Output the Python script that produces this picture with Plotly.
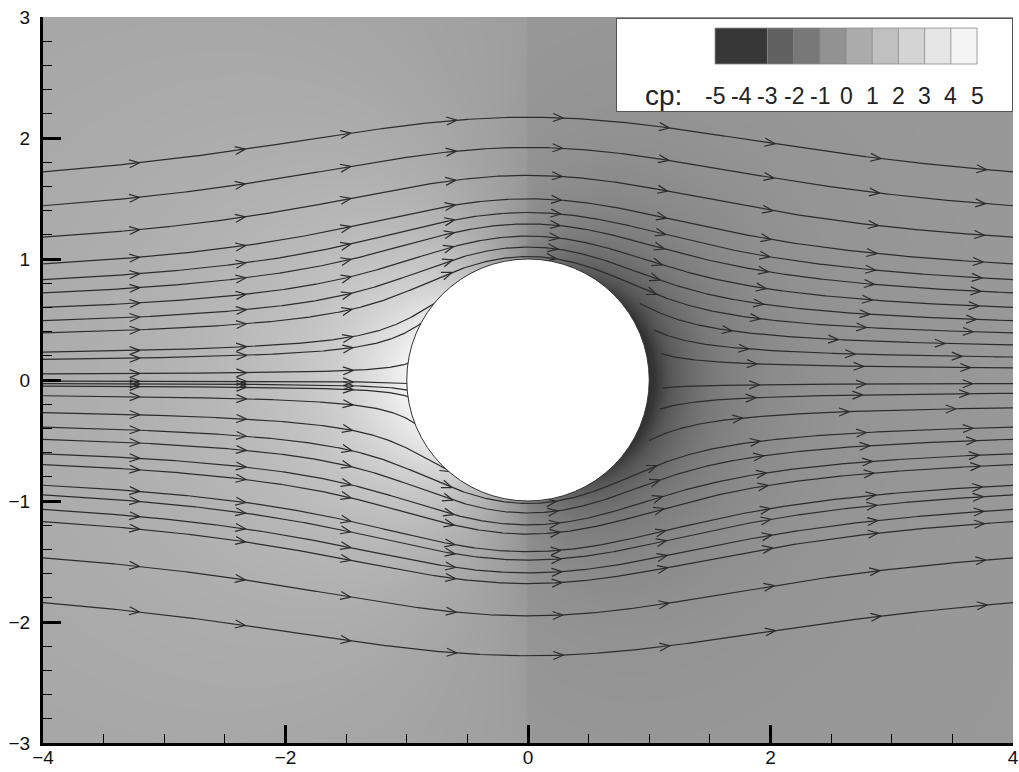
import math
import numpy as np
import plotly.graph_objects as go

# ---------------------------------------------------------------- data ----
# Heights of the streamline rake at the inflow edge (x = -4)
inflow_seed_y = [1.72, 1.44, 1.18, 0.96, 0.83, 0.72, 0.60, 0.49, 0.39, 0.23, 0.17,
                 0.05, -0.01, -0.03, -0.05, -0.13, -0.27, -0.39, -0.49, -0.61,
                 -0.70, -0.87, -0.95, -1.07, -1.17, -1.47, -1.84]
# Heights at the outflow edge (x = 4) of the lines leaving the rear face
wake_seed_y = [0.29, 0.19, 0.10, -0.03, -0.11, -0.23]

# Pressure-coefficient legend
cp_band_edges = [-5, -3, -2, -1, 0, 1, 2, 3, 4, 5]
cp_tick_values = [-5, -4, -3, -2, -1, 0, 1, 2, 3, 4, 5]
cp_tick_labels = ["-5", "-4", "-3", "-2", "-1", "0", "1", "2", "3", "4", "5"]
gray_cp = [-5, -4, -3, -2, -1, 0, 1, 2, 3, 4, 5]
gray_level = [42, 55, 85, 108, 132, 160, 182, 202, 222, 238, 249]

# ---------------------------------------------------------- flow model ----
K_NEAR = 0.3635      # porous doublet at the cylinder
K_FAR = 3.28         # broad displacement term
CORE = 3.0
CP_FRONT = 4.4
CP_BACK = 4.4
CP_SHOULDER = 0.8
ZONE_SHIFT = -0.22   # offset of the downstream (x >= 0) block
X_MIN, X_MAX, Y_MIN, Y_MAX = -4.0, 4.0, -3.0, 3.0


def velocity(x, y):
    s = x * x + y * y
    t = s + CORE * CORE
    f = 1.0 - K_NEAR / s - K_FAR / t
    fp = K_NEAR / (s * s) + K_FAR / (t * t)
    return f + 2.0 * y * y * fp, -2.0 * x * y * fp


def unit_dir(x, y, sign):
    u, v = velocity(x, y)
    m = math.hypot(u, v) or 1.0
    return sign * u / m, sign * v / m


def trace_line(x0, y0, sign, r_stop, h=0.01):
    xs, ys = [x0], [y0]
    x, y = x0, y0
    for _ in range(4000):
        k1 = unit_dir(x, y, sign)
        k2 = unit_dir(x + 0.5 * h * k1[0], y + 0.5 * h * k1[1], sign)
        k3 = unit_dir(x + 0.5 * h * k2[0], y + 0.5 * h * k2[1], sign)
        k4 = unit_dir(x + h * k3[0], y + h * k3[1], sign)
        x += h * (k1[0] + 2 * k2[0] + 2 * k3[0] + k4[0]) / 6.0
        y += h * (k1[1] + 2 * k2[1] + 2 * k3[1] + k4[1]) / 6.0
        xs.append(x)
        ys.append(y)
        if x > X_MAX or x < X_MIN or abs(y) > Y_MAX or math.hypot(x, y) < r_stop:
            break
    return np.array(xs), np.array(ys)


def chevrons(xs, ys, first=0.8, step=0.88, length=0.085, half=0.033):
    seg = np.hypot(np.diff(xs), np.diff(ys))
    s = np.concatenate([[0.0], np.cumsum(seg)])
    ox, oy = [], []
    pos = first
    while pos < s[-1] - 0.05:
        i = int(np.clip(np.searchsorted(s, pos) - 1, 0, len(seg) - 1))
        frac = (pos - s[i]) / seg[i]
        px = xs[i] + frac * (xs[i + 1] - xs[i])
        py = ys[i] + frac * (ys[i + 1] - ys[i])
        tx = (xs[i + 1] - xs[i]) / seg[i]
        ty = (ys[i + 1] - ys[i]) / seg[i]
        nx, ny = -ty, tx
        ox += [px - length * tx + half * nx, px, px - length * tx - half * nx, None]
        oy += [py - length * ty + half * ny, py, py - length * ty - half * ny, None]
        pos += step
    return ox, oy


paths = []
for y0 in inflow_seed_y:
    paths.append(trace_line(X_MIN, y0, +1, 0.98))
for y0 in wake_seed_y:
    bx, by = trace_line(X_MAX, y0, -1, 1.12)
    paths.append((bx[::-1], by[::-1]))

line_x, line_y, arrow_x, arrow_y = [], [], [], []
for px, py in paths:
    line_x += list(px) + [None]
    line_y += list(py) + [None]
    ax, ay = chevrons(px, py)
    arrow_x += ax
    arrow_y += ay

# pressure field: slow decay ahead of the body, compact suction behind it
gx = np.linspace(X_MIN, X_MAX, 321)
gy = np.linspace(Y_MIN, Y_MAX, 241)
GX, GY = np.meshgrid(gx, gy)
R2 = np.maximum(GX ** 2 + GY ** 2, 1.0)
cp = np.where(GX < 0, -CP_FRONT * GX / R2 ** 1.25, -CP_BACK * GX / R2 ** 2.0)
cp = cp - CP_SHOULDER * GY ** 2 / R2 ** 2
cp = cp + np.where(GX >= 0, ZONE_SHIFT, 0.0)
cp = np.round(cp, 3)

colorscale = [[(c - gray_cp[0]) / (gray_cp[-1] - gray_cp[0]), f"rgb({g},{g},{g})"]
              for c, g in zip(gray_cp, gray_level)]

fig = go.Figure()
fig.add_trace(go.Heatmap(x=gx, y=gy, z=cp, zmin=-5, zmax=5, colorscale=colorscale,
                         zsmooth="best", showscale=False, hoverinfo="skip"))
fig.add_trace(go.Scatter(x=line_x, y=line_y, mode="lines",
                         line=dict(color="#2c2c2c", width=1.2), hoverinfo="skip",
                         showlegend=False))
fig.add_trace(go.Scatter(x=arrow_x, y=arrow_y, mode="lines",
                         line=dict(color="#2c2c2c", width=1.2), hoverinfo="skip",
                         showlegend=False))

# ---------------------------------------------------------- legend box ----
BOX_L, BOX_R = -8.74, 6.336
BOX_H = 92
BAR_Y0, BAR_Y1 = 47, 83
fig.add_trace(go.Heatmap(x=[BOX_L, BOX_R], y=[0, BOX_H], z=[[0]],
                         colorscale=[[0, "white"], [1, "white"]], showscale=False,
                         hoverinfo="skip", xaxis="x2", yaxis="y2"))
band_mid = [(a + b) / 2 for a, b in zip(cp_band_edges[:-1], cp_band_edges[1:])]
fig.add_trace(go.Heatmap(x=cp_band_edges, y=[BAR_Y0, BAR_Y1], z=[band_mid],
                         zmin=-5, zmax=5, colorscale=colorscale, showscale=False,
                         hoverinfo="skip", xaxis="x2", yaxis="y2"))
sep_x, sep_y = [], []
for e in cp_band_edges:
    sep_x += [e, e, None]
    sep_y += [BAR_Y0, BAR_Y1, None]
sep_x += [cp_band_edges[0], cp_band_edges[-1], None, cp_band_edges[0], cp_band_edges[-1]]
sep_y += [BAR_Y0, BAR_Y0, None, BAR_Y1, BAR_Y1]
fig.add_trace(go.Scatter(x=sep_x, y=sep_y, mode="lines",
                         line=dict(color="#8a8a8a", width=0.8), hoverinfo="skip",
                         showlegend=False, xaxis="x2", yaxis="y2"))

annotations = [dict(x=v, y=15, xref="x2", yref="y2", text=t, showarrow=False,
                    xanchor="center", yanchor="middle",
                    font=dict(size=23, color="#222"))
               for v, t in zip(cp_tick_values, cp_tick_labels)]
annotations.append(dict(x=-7.75, y=16, xref="x2", yref="y2", text="cp:",
                        showarrow=False, xanchor="left", yanchor="middle",
                        font=dict(size=28, color="#222")))

fig.add_shape(type="circle", xref="x", yref="y", x0=-1, y0=-1, x1=1, y1=1,
              fillcolor="white", line=dict(color="#333", width=1), layer="above")

axis_font = dict(family="Liberation Sans, Arial, sans-serif", size=19, color="#111")
fig.update_layout(
    width=1019, height=772,
    autosize=False,
    margin=dict(l=43, r=6, t=17, b=29, autoexpand=False),
    paper_bgcolor="white", plot_bgcolor="white",
    font=dict(family="Liberation Sans, Arial, sans-serif"),
    showlegend=False,
    annotations=annotations,
    xaxis=dict(range=[X_MIN, X_MAX], domain=[0, 1], tick0=-4, dtick=2,
               automargin=False,
               showline=True, linecolor="black", linewidth=3,
               ticks="inside", ticklen=18, tickwidth=3, tickcolor="black",
               minor=dict(ticks="inside", ticklen=9, tickwidth=1, dtick=0.5,
                          tickcolor="black"),
               showgrid=False, zeroline=False, tickfont=axis_font,
               ticklabelstandoff=-5),
    yaxis=dict(range=[Y_MIN, Y_MAX], domain=[0, 1], tick0=-3, dtick=1,
               automargin=False,
               showline=True, linecolor="black", linewidth=3,
               ticks="inside", ticklen=18, tickwidth=3, tickcolor="black",
               minor=dict(ticks="inside", ticklen=9, tickwidth=1, dtick=0.2,
                          tickcolor="black"),
               showgrid=False, zeroline=False, tickfont=axis_font,
               ticklabelstandoff=6),
    xaxis2=dict(range=[BOX_L, BOX_R], domain=[0.5918, 0.9990], anchor="y2",
                automargin=False,
                showline=True, mirror=True, linecolor="#555", linewidth=1,
                showticklabels=False, ticks="", showgrid=False, zeroline=False,
                fixedrange=True),
    yaxis2=dict(range=[0, BOX_H], domain=[0.8705, 0.9972], anchor="x2",
                automargin=False,
                showline=True, mirror=True, linecolor="#555", linewidth=1,
                showticklabels=False, ticks="", showgrid=False, zeroline=False,
                fixedrange=True),
)

fig.write_html("out.html")
